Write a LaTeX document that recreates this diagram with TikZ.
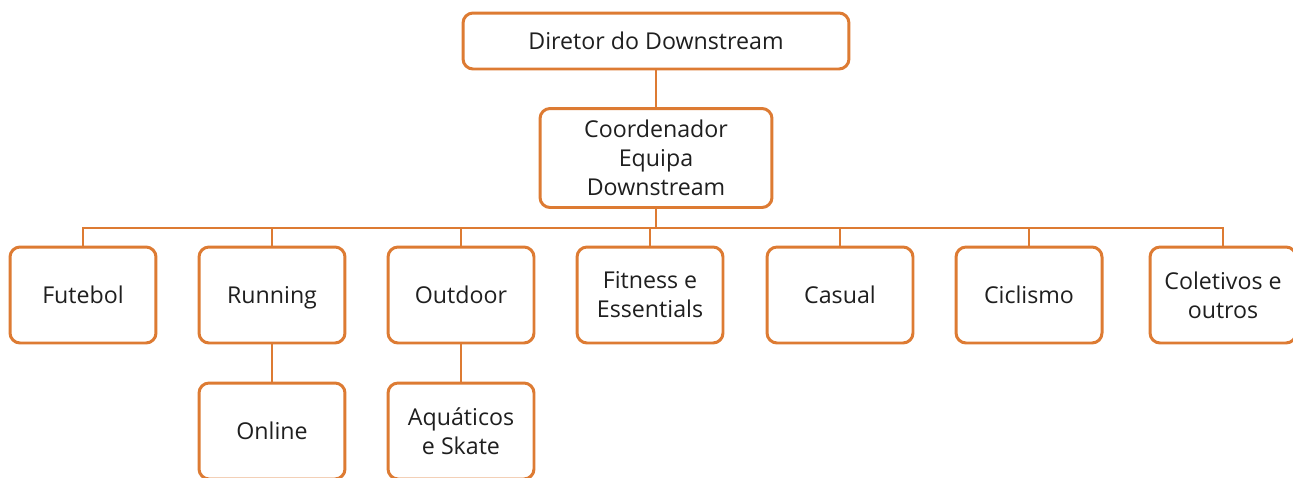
\documentclass[tikz,border=0pt]{standalone}
\usepackage{fontspec}
\setmainfont{Open Sans}
\usepackage{tikz}
\usetikzlibrary{positioning}
\definecolor{orgline}{RGB}{221,123,51}

\begin{document}
\begin{tikzpicture}[
  x=0.02cm,y=-0.02cm,
  box/.style={draw=orgline,line width=1.7pt,rounded corners=0.2cm,fill=white,
              minimum width=2.92cm,minimum height=1.92cm,align=center,
              font=\fontsize{13.2}{16.4}\selectfont,text=black!88},
  link/.style={draw=orgline,line width=1.1pt}
]
\useasboundingbox (0,0) rectangle (1293,477);

% Top levels
\node[box,minimum width=7.72cm,minimum height=1.12cm] (dir) at (656,41) {Diretor do Downstream};
\node[box,minimum width=4.64cm,minimum height=1.98cm] (coord) at (656,158) {Coordenador\\Equipa\\Downstream};
\draw[link] (dir) -- (coord);

% Bus line
\coordinate (bus) at (656,228);

% Areas
\node[box] (fut) at (83,295) {Futebol};
\node[box,text depth=0pt] (run) at (272,295) {Running};
\node[box] (out) at (461,295) {Outdoor};
\node[box] (fit) at (650,295) {Fitness e\\Essentials};
\node[box] (cas) at (840,295) {Casual};
\node[box] (cic) at (1029,295) {Ciclismo};
\node[box] (col) at (1223,295) {Coletivos e\\outros};

\foreach \n in {fut,run,out,fit,cas,cic,col}
  \draw[link] (coord.south) -- (bus) -| (\n.north);

% Sub areas
\node[box] (onl) at (272,431) {Online};
\node[box] (aqu) at (461,431) {Aquáticos\\e Skate};
\draw[link] (run) -- (onl);
\draw[link] (out) -- (aqu);

\end{tikzpicture}
\end{document}
